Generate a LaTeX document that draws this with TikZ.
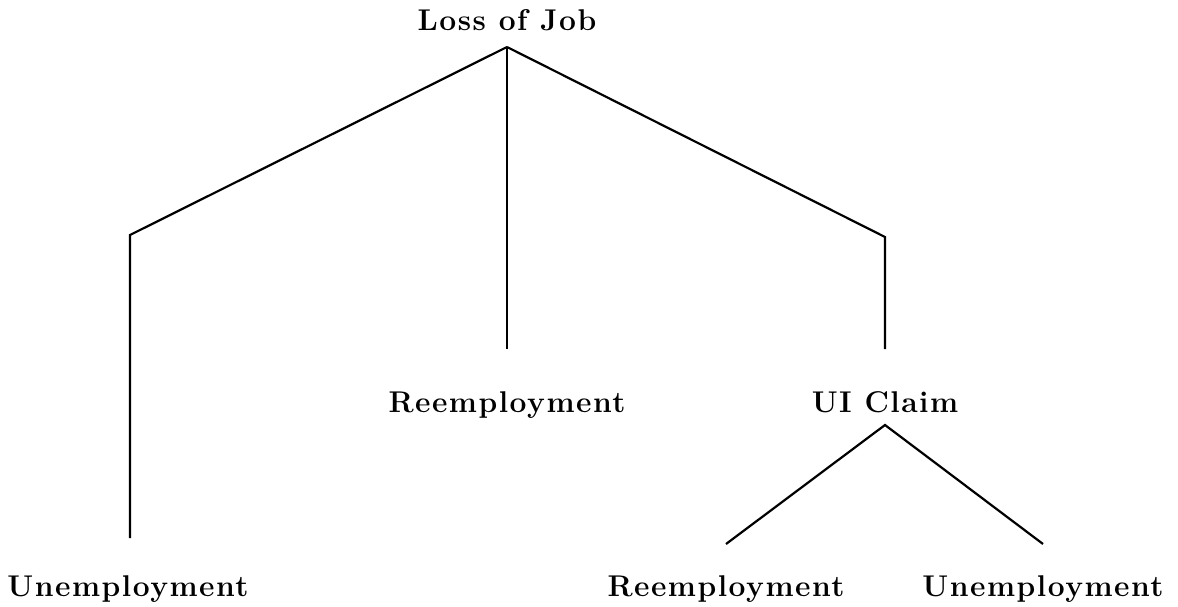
\documentclass[tikz,border=0pt]{standalone}
\usepackage{fontspec}
\setmainfont{Latin Modern Roman}
\begin{document}
\begin{tikzpicture}[x=1pt,y=-1pt,
  lbl/.style={font=\fontsize{30}{34}\selectfont\bfseries\addfontfeatures{LetterSpace=5}, inner sep=0pt, anchor=base},
  edge/.style={line width=2.2pt, line join=miter}]
\useasboundingbox (0,0) rectangle (1178,607);
\node[lbl] (loss) at (507,31) {Loss of Job};
\node[lbl] (unemp1) at (128,596) {Unemployment};
\node[lbl] (reemp1) at (507,412) {Reemployment};
\node[lbl] (ui) at (885,412) {UI Claim};
\node[lbl] (reemp2) at (726,596) {Reemployment};
\node[lbl] (unemp2) at (1043,596) {Unemployment};
\coordinate (top) at (507,47);
\coordinate (lk) at (130,235);
\coordinate (le) at (130,538);
\coordinate (me) at (507,349);
\coordinate (rk) at (885,237);
\coordinate (re) at (885,349);
\coordinate (uitop) at (885,425);
\coordinate (ul) at (726,544);
\coordinate (ur) at (1043,544);
\draw[edge] (top) -- (lk) -- (le);
\draw[edge] (top) -- (me);
\draw[edge] (top) -- (rk) -- (re);
\draw[edge] (ul) -- (uitop) -- (ur);
\end{tikzpicture}
\end{document}
